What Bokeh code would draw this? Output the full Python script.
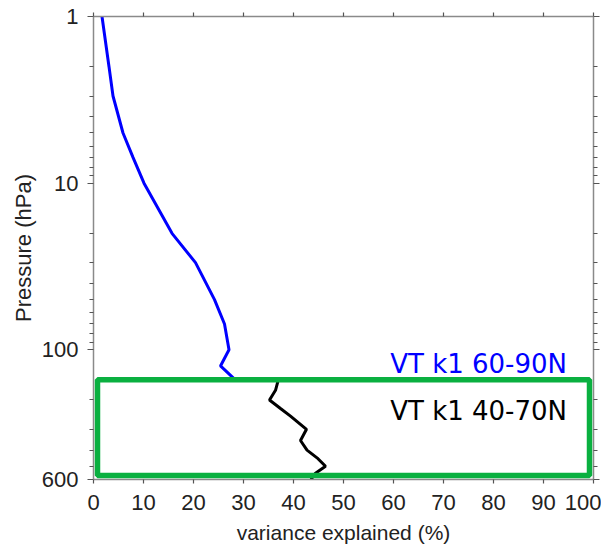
from bokeh.plotting import figure
from bokeh.models import (Range1d, FixedTicker, PrintfTickFormatter, LinearAxis,
                          LogAxis, BoxAnnotation, CustomJSTickFormatter)
from bokeh.core.properties import value
from bokeh.embed import file_html
from bokeh.resources import INLINE

# ---- data ----
pressure_blue = [1, 2, 3, 5, 7, 10, 20, 30, 50, 70, 100, 125, 150]
var_blue = [1.7, 3.1, 3.9, 5.9, 7.9, 10.1, 15.7, 20.4, 24.2, 26.2, 27.1, 25.4, 28.2]

pressure_black = [150, 175, 200, 225, 250, 300, 350, 400, 450, 500, 550, 600]
var_black = [37.0, 36.4, 35.2, 37.4, 39.4, 42.6, 41.4, 42.7, 44.9, 46.4, 44.4, 43.5]

x_ticks = [0, 10, 20, 30, 40, 50, 60, 70, 80, 90, 100]
y_major = [1, 10, 100, 600]
y_minor = [2, 3, 4, 5, 6, 7, 8, 9, 20, 30, 40, 50, 60, 70, 80, 90, 200, 300, 400, 500]

box_x = [0.8, 99.2]
box_p = [151, 567]

label_blue = "VT k1 60-90N"
label_black = "VT k1 40-70N"

FONT = "Liberation Sans"

p = figure(frame_width=500, frame_height=463, output_backend="svg", toolbar_location=None,
           x_range=Range1d(0, 100), y_range=Range1d(600, 1), y_axis_type="log",
           min_border_left=93, min_border_right=8, min_border_top=16, min_border_bottom=64)
p.outline_line_color = None
p.grid.visible = False
p.background_fill_color = "white"
p.border_fill_color = "white"

AX_COL = "#8a8a8a"
TK_COL = "#555555"

def style_x(ax, show_labels):
    ax.ticker = FixedTicker(ticks=x_ticks)
    ax.axis_line_color = AX_COL
    ax.axis_line_width = 1.5
    ax.major_tick_line_color = TK_COL
    ax.major_tick_line_width = 1.2
    ax.major_tick_in = 0
    ax.minor_tick_line_color = None
    ax.major_label_text_font = FONT
    ax.major_tick_out = 4
    if show_labels:
        ax.major_label_text_font_size = "22px"
        ax.major_label_standoff = 11
        ax.major_label_text_color = "#222222"
    else:
        ax.formatter = CustomJSTickFormatter(code="return ''")
        ax.major_label_text_font_size = "1px"
        ax.major_label_text_color = None
        ax.major_label_standoff = 0

def style_y(ax, show_labels):
    ax.ticker = FixedTicker(ticks=y_major, minor_ticks=y_minor)
    ax.axis_line_color = AX_COL
    ax.axis_line_width = 1.5
    ax.major_tick_line_color = TK_COL
    ax.major_tick_line_width = 1.2
    ax.minor_tick_line_color = TK_COL
    ax.minor_tick_line_width = 1.2
    ax.major_tick_in = 0
    ax.minor_tick_in = 0
    ax.major_tick_out = 6
    ax.minor_tick_out = 4
    ax.major_label_text_font = FONT
    if show_labels:
        ax.formatter = PrintfTickFormatter(format="%d")
        ax.major_label_text_font_size = "22px"
        ax.major_label_standoff = 9
        ax.major_label_text_color = "#222222"
    else:
        ax.formatter = CustomJSTickFormatter(code="return ''")
        ax.major_label_text_font_size = "1px"
        ax.major_label_text_color = None
        ax.major_label_standoff = 0

xb = p.xaxis[0]
style_x(xb, True)
xb.axis_label = "variance explained (%)"
xb.axis_label_text_font = FONT
xb.axis_label_text_font_size = "21px"
xb.axis_label_text_font_style = "normal"
xb.axis_label_text_color = "#222222"
xb.axis_label_standoff = 8

yl = p.yaxis[0]
style_y(yl, True)
yl.axis_label = "Pressure (hPa)"
yl.axis_label_text_font = FONT
yl.axis_label_text_font_size = "22px"
yl.axis_label_text_font_style = "normal"
yl.axis_label_text_color = "#222222"
yl.axis_label_standoff = 3

xt = LinearAxis()
style_x(xt, False)
p.add_layout(xt, "above")

yr = LogAxis()
style_y(yr, False)
p.add_layout(yr, "right")

p.line(var_blue, pressure_blue, line_color="#0000ff", line_width=3)
p.line(var_black, pressure_black, line_color="black", line_width=3)

box = BoxAnnotation(left=box_x[0], right=box_x[1], top=box_p[0], bottom=box_p[1],
                    fill_alpha=0, line_color="#0ab040", line_alpha=1.0, line_width=5.5)
p.add_layout(box)

p.text(x=[94.7], y=[122], text=[label_blue], text_align="right",
       text_baseline="alphabetic", text_font=value("DejaVu Sans"),
       text_font_size="26px", text_color="#0000ff")
p.text(x=[94.7], y=[232], text=[label_black], text_align="right",
       text_baseline="alphabetic", text_font=value("DejaVu Sans"),
       text_font_size="26px", text_color="black")

open("out.html", "w").write(file_html(p, INLINE))
